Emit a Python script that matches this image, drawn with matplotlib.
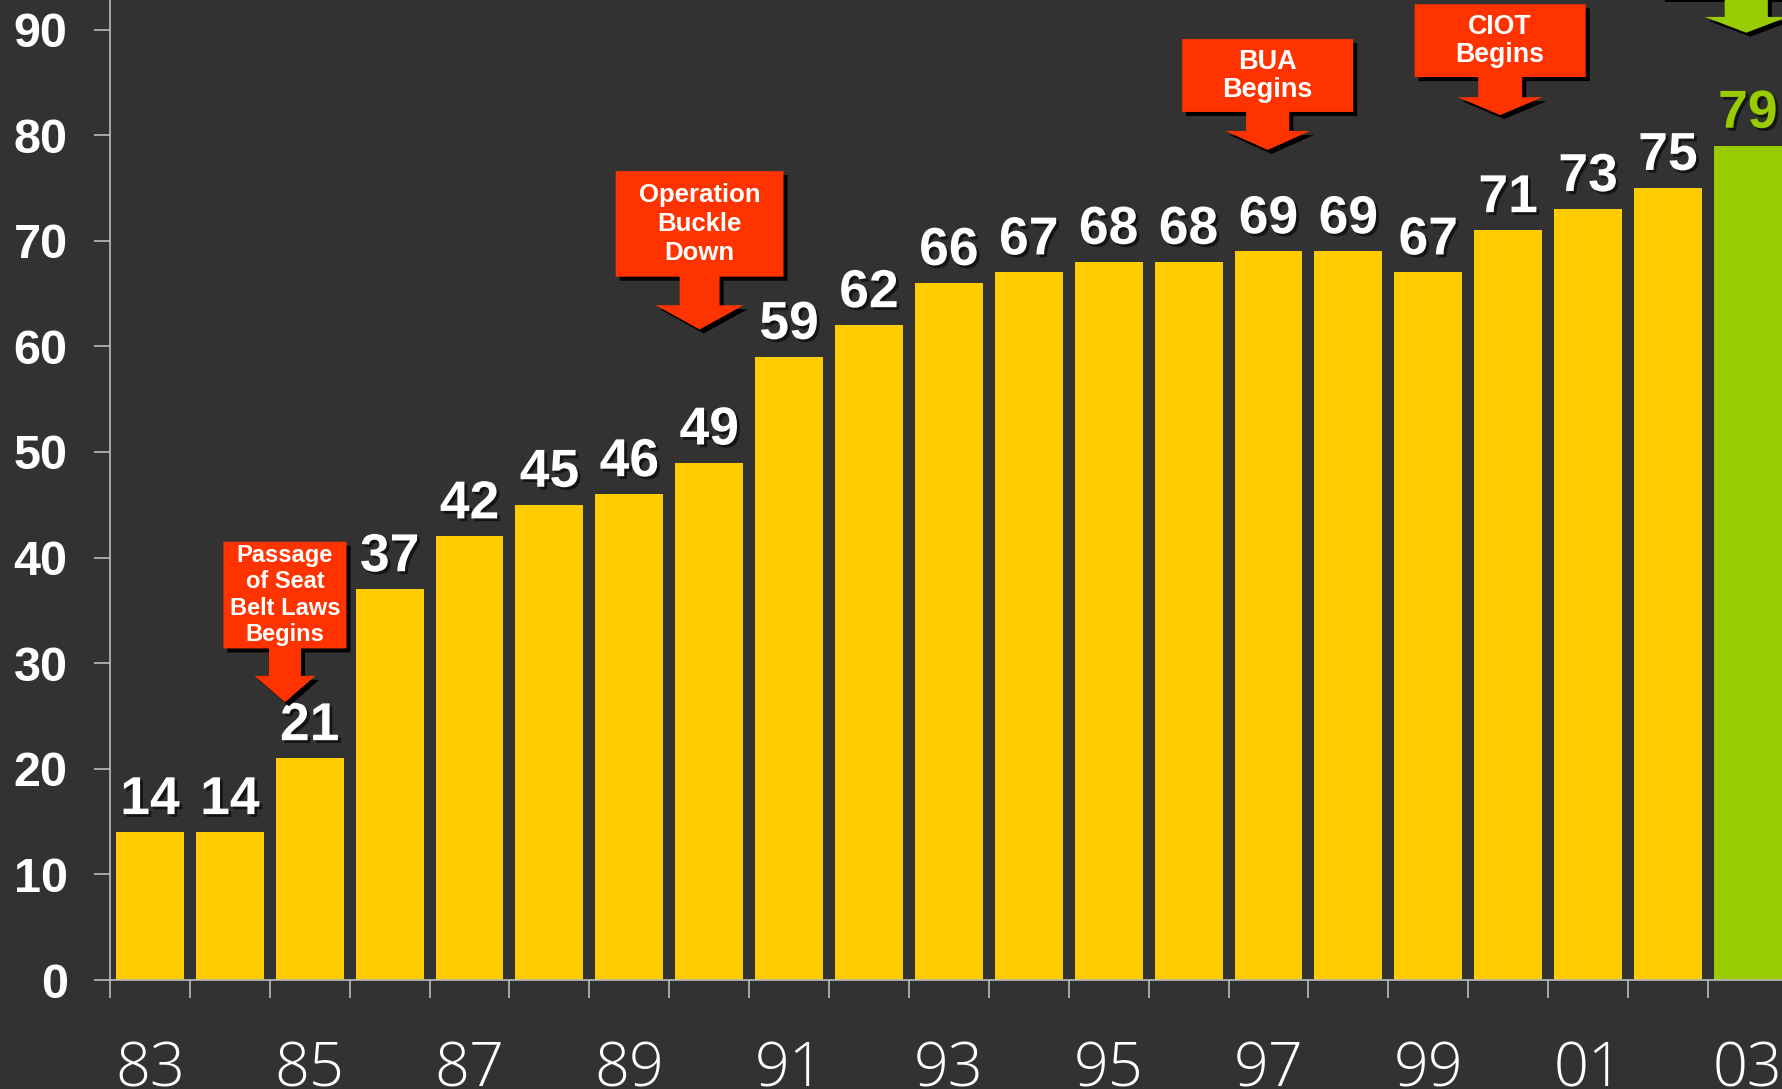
import matplotlib
matplotlib.use('Agg')
import matplotlib.pyplot as plt
from matplotlib.patches import Polygon
from matplotlib import transforms
import matplotlib.patheffects as pe
import numpy as np

years = ['83', '84', '85', '86', '87', '88', '89', '90', '91', '92', '93',
         '94', '95', '96', '97', '98', '99', '00', '01', '02', '03']
values = [14, 14, 21, 37, 42, 45, 46, 49, 59, 62, 66,
          67, 68, 68, 69, 69, 67, 71, 73, 75, 79]
bar_colors = ['#FFCC00'] * 20 + ['#99CC00']
label_colors = ['white'] * 20 + ['#99CC00']

# callouts: text, centre x, box top, box bottom, box half width,
# stem half width, head half width, head base y, tip y, colour, font size, line spacing
callouts = [
    ("Passage\nof Seat\nBelt Laws\nBegins", 1.69, 41.5, 31.4, 0.77, 0.20, 0.38, 28.8, 26.3, '#FF3300', 17, 1.2),
    ("Operation\nBuckle\nDown", 6.88, 76.6, 66.6, 1.05, 0.25, 0.55, 63.9, 61.6, '#FF3300', 18.5, 1.25),
    ("BUA\nBegins", 13.99, 89.1, 82.2, 1.07, 0.27, 0.53, 80.4, 78.6, '#FF3300', 19.5, 1.1),
    ("CIOT\nBegins", 16.90, 92.4, 85.5, 1.07, 0.275, 0.53, 83.6, 81.9, '#FF3300', 19.3, 1.1),
    ("", 19.98, 99.0, 93.0, 1.07, 0.27, 0.52, 91.2, 89.7, '#99CC00', 18, 1.1),
]

bg = '#323232'
fig = plt.figure(figsize=(17.83, 10.89), dpi=100, facecolor=bg)
ax = fig.add_axes([110 / 1783, 109 / 1089, 1 - 110 / 1783, 1 - 109 / 1089])
ax.set_facecolor(bg)

x = np.arange(len(years))
ax.bar(x, values, width=0.85, color=bar_colors, zorder=2)

shadow = [pe.withSimplePatchShadow(offset=(2, -2), shadow_rgbFace='black', alpha=0.6)]
for i, v in enumerate(values):
    ax.annotate(str(v), (x[i], v), xytext=(0, 13), textcoords='offset points',
                ha='center', va='baseline', fontsize=38.5, fontweight='bold',
                color=label_colors[i], family=['Liberation Sans', 'DejaVu Sans'],
                path_effects=shadow, zorder=4)

ax.set_xlim(-0.5, 20.44)
ax.set_ylim(0, 92.8)

ax.set_yticks(range(0, 91, 10))
ax.tick_params(axis='y', direction='out', length=11.5, width=1.2, color='#bbbbbb',
               pad=19, labelsize=35, labelcolor='white')
for t in ax.get_yticklabels():
    t.set_fontweight('bold')
    t.set_family(['Liberation Sans', 'DejaVu Sans'])

ax.set_xticks(x[::2])
ax.set_xticklabels(years[::2])
ax.set_xticks(np.arange(len(years)) - 0.5, minor=True)
ax.tick_params(axis='x', which='major', length=0, pad=43, labelsize=44, labelcolor='white')
ax.tick_params(axis='x', which='minor', direction='out', length=13, width=1.2, color='#bbbbbb')
for t in ax.get_xticklabels():
    t.set_fontweight('light')
    t.set_family(['Open Sans', 'DejaVu Sans'])

for s in ['top', 'right']:
    ax.spines[s].set_visible(False)
for s in ['left', 'bottom']:
    ax.spines[s].set_color('#bbbbbb')
    ax.spines[s].set_linewidth(1.2)
    ax.spines[s].set_zorder(3)

shadow_tr = transforms.offset_copy(ax.transData, fig=fig, x=4, y=-4, units='dots')
for text, cx, top, bot, bw, sw, hw, hy, tip, col, fs, ls in callouts:
    pts = [(cx - bw, top), (cx + bw, top), (cx + bw, bot), (cx + sw, bot),
           (cx + sw, hy), (cx + hw, hy), (cx, tip), (cx - hw, hy),
           (cx - sw, hy), (cx - sw, bot), (cx - bw, bot)]
    ax.add_patch(Polygon(pts, closed=True, facecolor='black', edgecolor='none',
                         transform=shadow_tr, zorder=5))
    ax.add_patch(Polygon(pts, closed=True, facecolor=col, edgecolor='none', zorder=6))
    if text:
        ax.text(cx, (top + bot) / 2, text, ha='center', va='center', ma='center',
                fontsize=fs, fontweight='bold', color='white', linespacing=ls,
                family=['Liberation Sans', 'DejaVu Sans'], zorder=7)

fig.savefig('out.png', dpi=100, facecolor=bg)
